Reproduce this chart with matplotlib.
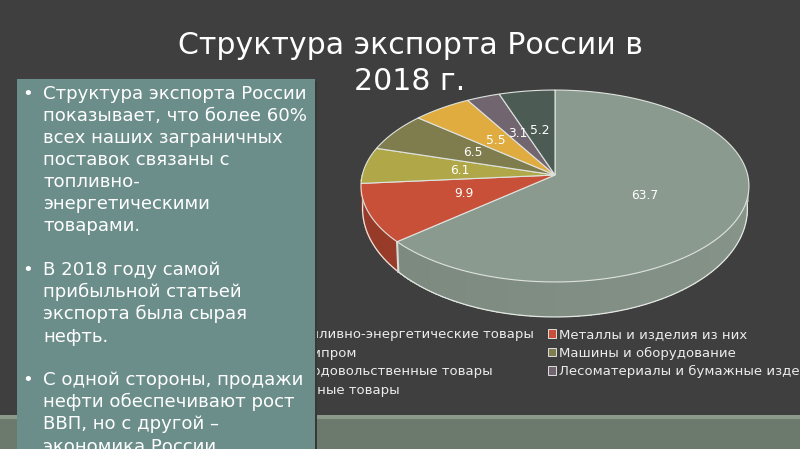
import numpy as np
import matplotlib
matplotlib.use("Agg")
import matplotlib.pyplot as plt
from matplotlib.patches import Polygon, Rectangle, Patch

plt.rcParams['font.family'] = ['DejaVu Sans']

title_lines = ["Структура экспорта России в", "2018 г."]
categories = ["Топливно-энергетические товары", "Металлы и изделия из них", "Химпром",
              "Машины и оборудование", "Продовольственные товары",
              "Лесоматериалы и бумажные изделия", "Разные товары"]
values = [63.7, 9.9, 6.1, 6.5, 5.5, 3.1, 5.2]
colors = ["#8b9a8e", "#c84f38", "#b0a848", "#7f7d4e", "#e0ac40", "#716670", "#4c5c54"]
wall_colors = ["#87958a", "#a5402d", "#8f8a3a", "#66643e", "#b58b33", "#5b525a", "#3d4a44"]
para1 = ["Структура экспорта России", "показывает, что более 60%", "всех наших заграничных",
         "поставок связаны с", "топливно-", "энергетическими", "товарами."]
para2 = ["В 2018 году самой", "прибыльной статьей", "экспорта была сырая", "нефть."]
para3 = ["С одной стороны, продажи", "нефти обеспечивают рост", "ВВП, но с другой –", "экономика России"]

BG = "#3f3f3f"
fig = plt.figure(figsize=(8, 4.49), dpi=100, facecolor=BG)
ax = fig.add_axes([0, 0, 1, 1])
ax.set_xlim(0, 800)
ax.set_ylim(449, 0)
ax.axis("off")

# perspective disc
CX, CY, A, B, K = 555, 175, 94.7, 192.7, 0.1146


def top(t, r=1.0):
    u, v = r * np.sin(t), r * np.cos(t)
    d = 1 + K * v
    return CX + B * u / d, CY - A * v / d


def low(t):
    # rim of the lower face of the disc
    u, v = np.sin(t), np.cos(t)
    x0, y0 = top(t)
    return CX + (x0 - CX) * 0.992, y0 + 21 - 14 * v


# bottom band
ax.add_patch(Rectangle((0, 415), 800, 4, fc="#8c9a8c", ec="none", zorder=1))
ax.add_patch(Rectangle((0, 419), 800, 30, fc="#6b7a6c", ec="none", zorder=1))

edges = np.cumsum([0] + values) / sum(values) * 2 * np.pi

# walls, front half only
for i, c in enumerate(wall_colors):
    lo, hi = max(edges[i], np.pi / 2), min(edges[i + 1], 3 * np.pi / 2)
    if hi <= lo:
        continue
    ts = np.linspace(lo, hi, max(2, int((hi - lo) * 40)))
    rgb = np.array(matplotlib.colors.to_rgb(c))
    for a, b in zip(ts[:-1], ts[1:]):
        frac = (0.5 * (a + b) - np.pi / 2) / np.pi
        col = np.clip(rgb * (1.0 - 0.1 * frac), 0, 1)
        xs = [top(a)[0], top(b)[0] - 0.6, low(b)[0] - 0.6, low(a)[0]]
        ys = [top(a)[1], top(b)[1], low(b)[1], low(a)[1]]
        ax.add_patch(Polygon(np.c_[xs, ys], fc=col, ec="none", antialiased=False, zorder=2))
ts = np.linspace(np.pi / 2, 3 * np.pi / 2, 200)
ax.plot(*low(ts), color="#e4e8e4", lw=0.9, zorder=3)
for t in [np.pi / 2, edges[1], 3 * np.pi / 2]:
    ax.plot([top(t)[0], low(t)[0]], [top(t)[1], low(t)[1]], color="#d8dcd8", lw=1.5 if t == edges[1] else 0.6, zorder=3)

# top faces
for i, c in enumerate(colors):
    ts = np.linspace(edges[i], edges[i + 1], 120)
    xs, ys = top(ts)
    pts = np.r_[[[CX, CY]], np.c_[xs, ys]]
    ax.add_patch(Polygon(pts, closed=True, fc=c, ec="#dfe3df", lw=0.8, zorder=4))
    mid = 0.5 * (edges[i] + edges[i + 1])
    mx, my = top(mid, 0.5)
    ax.text(mx, my, f"{values[i]}", color="white", fontsize=8.8, ha="center", va="center", zorder=5)

# legend
order = [0, 2, 4, 6, 1, 3, 5]
handles = [Patch(fc=colors[i], ec="#e0e0e0", lw=0.7) for i in order]
labels = [categories[i] for i in order]
leg = ax.legend(handles, labels, ncol=2, frameon=False, loc="upper left",
                bbox_to_anchor=(283 / 800, 1 - 328 / 449), borderaxespad=0, borderpad=0,
                fontsize=9.5, labelcolor="#ececec", handlelength=0.62, handleheight=0.62,
                handletextpad=0.2, labelspacing=0.42, columnspacing=1.1)

# title
ax.text(410, 45, title_lines[0], color="white", fontsize=21.6, ha="center", va="center", zorder=8)
ax.text(410, 81, title_lines[1], color="white", fontsize=21.6, ha="center", va="center", zorder=8)

# text panel
ax.add_patch(Rectangle((19, 81), 298, 370, fc="#383838", ec="none", zorder=6))
ax.add_patch(Rectangle((17, 79), 298, 372, fc="#6b8e8a", ec="none", zorder=6))
ys_all = [[94, 116, 138, 160, 182, 204, 226], [270, 292, 314, 337], [380, 402, 424, 447]]
for para, ys in zip([para1, para2, para3], ys_all):
    ax.text(28, ys[0], "•", color="white", fontsize=13, ha="center", va="center", zorder=7)
    for line, y in zip(para, ys):
        ax.text(43, y, line, color="white", fontsize=13.1, ha="left", va="center", zorder=7)

fig.savefig("out.png", dpi=100, facecolor=BG)
